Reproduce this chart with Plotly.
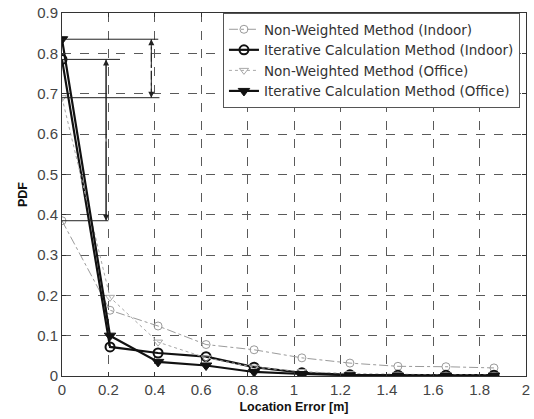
import plotly.graph_objects as go

x_err = [0, 0.207, 0.414, 0.621, 0.828, 1.034, 1.241, 1.448, 1.655, 1.862]
nonw_indoor = [0.385, 0.163, 0.124, 0.078, 0.065, 0.045, 0.032, 0.024, 0.023, 0.02]
iter_indoor = [0.785, 0.072, 0.057, 0.048, 0.022, 0.008, 0.003, 0.002, 0.002, 0.002]
nonw_office = [0.69, 0.195, 0.084, 0.045, 0.022, 0.011, 0.006, 0.004, 0.003, 0.003]
iter_office = [0.835, 0.100, 0.035, 0.026, 0.010, 0.005, 0.002, 0.001, 0.001, 0.001]

x_ticks = [0, 0.2, 0.4, 0.6, 0.8, 1, 1.2, 1.4, 1.6, 1.8, 2]
x_ticktext = ["0", "0.2", "0.4", "0.6", "0.8", "1", "1.2", "1.4", "1.6", "1.8", "2"]
y_ticks = [0, 0.1, 0.2, 0.3, 0.4, 0.5, 0.6, 0.7, 0.8, 0.9]
y_ticktext = ["0", "0.1", "0.2", "0.3", "0.4", "0.5", "0.6", "0.7", "0.8", "0.9"]

names = ["Non-Weighted Method (Indoor)", "Iterative Calculation Method (Indoor)",
         "Non-Weighted Method (Office)", "Iterative Calculation Method (Office)"]

fig = go.Figure()
fig.add_trace(go.Scatter(x=x_err, y=nonw_indoor, name=names[0], mode="lines+markers",
                         line=dict(color="#9a9a9a", width=1, dash="dashdot"),
                         marker=dict(symbol="circle-open", size=8, color="#9a9a9a", line=dict(width=1))))
fig.add_trace(go.Scatter(x=x_err, y=iter_indoor, name=names[1], mode="lines+markers",
                         line=dict(color="#111111", width=2.2),
                         marker=dict(symbol="circle-open", size=9, color="#111111", line=dict(width=2))))
fig.add_trace(go.Scatter(x=x_err, y=nonw_office, name=names[2], mode="lines+markers",
                         line=dict(color="#a8a8a8", width=1, dash="dot"),
                         marker=dict(symbol="triangle-down-open", size=8, color="#a8a8a8", line=dict(width=1))))
fig.add_trace(go.Scatter(x=x_err, y=iter_office, name=names[3], mode="lines+markers",
                         line=dict(color="#111111", width=2.2),
                         marker=dict(symbol="triangle-down", size=10, color="#111111", line=dict(width=1, color="#111111"))))

# reference lines and arrows
shape_line = dict(color="#222222", width=1)
for yv, xe in [(iter_office[0], 0.415), (iter_indoor[0], 0.25), (nonw_office[0], 0.42), (nonw_indoor[0], 0.2)]:
    fig.add_shape(type="line", x0=0, x1=xe, y0=yv, y1=yv, line=shape_line)

def arrow(xv, y_from, y_to):
    fig.add_annotation(x=xv, y=y_to, ax=xv, ay=y_from, xref="x", yref="y", axref="x", ayref="y",
                       text="", showarrow=True, arrowhead=2, arrowsize=1.2, arrowwidth=1, arrowcolor="#222222")

arrow(0.19, nonw_indoor[0] + 0.2, iter_indoor[0])
arrow(0.19, iter_indoor[0] - 0.2, nonw_indoor[0])
arrow(0.385, 0.76, iter_office[0])
arrow(0.385, 0.76, nonw_office[0])
fig.add_shape(type="line", x0=0.19, x1=0.19, y0=nonw_indoor[0], y1=iter_indoor[0], line=shape_line)
fig.add_shape(type="line", x0=0.385, x1=0.385, y0=nonw_office[0], y1=iter_office[0],
              line=dict(color="#222222", width=1, dash="dashdot"))

axis_common = dict(showline=True, linecolor="#333333", linewidth=1, mirror="allticks",
                   ticks="inside", ticklen=4, tickcolor="#333333", automargin=False,
                   ticklabeloverflow="allow",
                   showgrid=True, gridcolor="#5a5a5a", gridwidth=1, griddash="dash",
                   zeroline=False, tickfont=dict(family="Liberation Sans, Arial", size=15, color="#444444"))

fig.update_xaxes(range=[0, 2], tickvals=x_ticks, ticktext=x_ticktext,
                 title=dict(text="<b>Location Error [m]</b>", standoff=5,
                            font=dict(family="Liberation Sans, Arial", size=12.5, color="#111111")),
                 **axis_common)
fig.update_yaxes(range=[0, 0.9], tickvals=y_ticks, ticktext=y_ticktext,
                 title=dict(text="<b>PDF</b>", standoff=6,
                            font=dict(family="Liberation Sans, Arial", size=12.5, color="#111111")),
                 **axis_common)

fig.update_layout(
    width=534, height=419,
    margin=dict(l=62, r=8, t=13, b=43),
    plot_bgcolor="white", paper_bgcolor="white",
    showlegend=True,
    legend=dict(x=0.987, y=1.0, xanchor="right", yanchor="top",
                bgcolor="white", bordercolor="#555555", borderwidth=1,
                font=dict(family="DejaVu Sans", size=13.5, color="#333333"),
                tracegroupgap=0, itemwidth=30),
)

fig.write_html("out.html", config={"displayModeBar": False},
               post_script="document.body.style.margin='0';document.body.style.overflow='hidden';")
